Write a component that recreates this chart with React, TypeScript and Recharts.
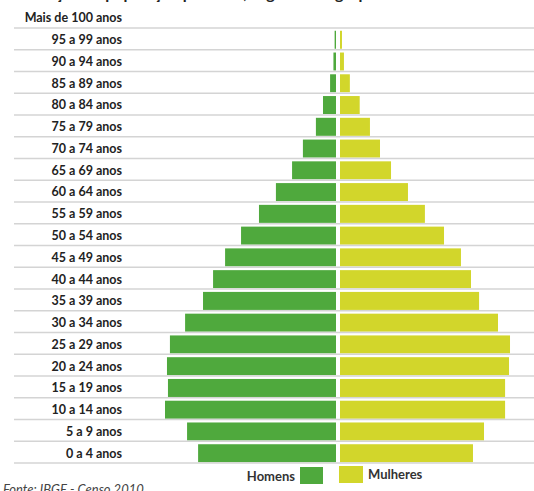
import React from "react";
import { BarChart, Bar, XAxis, YAxis } from "recharts";

// faixas etárias, de cima para baixo
const ageGroups = [
  "Mais de 100 anos",
  "95 a 99 anos",
  "90 a 94 anos",
  "85 a 89 anos",
  "80 a 84 anos",
  "75 a 79 anos",
  "70 a 74 anos",
  "65 a 69 anos",
  "60 a 64 anos",
  "55 a 59 anos",
  "50 a 54 anos",
  "45 a 49 anos",
  "40 a 44 anos",
  "35 a 39 anos",
  "30 a 34 anos",
  "25 a 29 anos",
  "20 a 24 anos",
  "15 a 19 anos",
  "10 a 14 anos",
  "5 a 9 anos",
  "0 a 4 anos",
];

// população em milhões
const men = [
  0.01, 0.07, 0.13, 0.3, 0.66, 1.02, 1.68, 2.23, 3.05, 3.91, 4.82,
  5.63, 6.24, 6.75, 7.66, 8.43, 8.58, 8.53, 8.68, 7.56, 7.0,
];
const women = [
  0.02, 0.1, 0.2, 0.5, 1.0, 1.52, 2.03, 2.59, 3.45, 4.31, 5.28,
  6.14, 6.65, 7.06, 8.02, 8.63, 8.58, 8.38, 8.38, 7.31, 6.75,
];

const xDomain = [-9, 9];

const GREEN = "#4fa93d";
const YELLOW = "#d2d62b";
const FONT = "Lato, 'Liberation Sans', sans-serif";

const chartData = ageGroups.map((age, i) => ({
  age,
  homens: -men[i],
  mulheres: women[i],
}));

// bar with a small offset away from the centre line
const makeShape = (shift: number) => (props: any) => {
  const { x, y, width, height, fill } = props;
  const w = Math.abs(width);
  if (!w || w < 0.5) return <g />;
  const left = Math.min(x, x + width) + shift;
  return <rect x={left} y={y} width={w} height={height} fill={fill} />;
};

const AgeTick = (props: any) => {
  const { y, payload } = props;
  return (
    <g>
      <text
        x={122}
        y={y}
        textAnchor="end"
        dominantBaseline="central"
        fontFamily={FONT}
        fontWeight={700}
        fontSize={12.5}
        fill="#222"
      >
        {payload.value}
      </text>
      <line x1={14} x2={534} y1={y + 10} y2={y + 10} stroke="#d4d4d4" strokeWidth={1.5} />
    </g>
  );
};

const LegendBox = () => (
  <svg
    width={534}
    height={27}
    style={{ position: "absolute", left: 0, top: 464, overflow: "visible", display: "block" }}
  >
    <text x={295} y={17} textAnchor="end" fontFamily={FONT} fontWeight={700} fontSize={13} fill="#333">
      Homens
    </text>
    <rect x={300} y={3} width={23} height={17} fill={GREEN} />
    <rect x={339} y={2} width={24} height={17} fill={YELLOW} />
    <text x={368} y={15} fontFamily={FONT} fontWeight={700} fontSize={13} fill="#333">
      Mulheres
    </text>
    <text x={3} y={30} fontFamily={FONT} fontStyle="italic" fontSize={13} fill="#444">
      Fonte: IBGE - Censo 2010
    </text>
  </svg>
);

export default function App() {
  return (
    <div style={{ position: "absolute", left: 0, top: 0, width: 534, height: 491, overflow: "hidden", background: "#fff" }}>
      <div
        style={{
          position: "absolute",
          top: -17,
          left: -6,
          whiteSpace: "nowrap",
          fontFamily: FONT,
          fontWeight: 700,
          fontSize: 16,
          color: "#222",
        }}
      >
        Distribuição da população por sexo, segundo os grupos de idade
      </div>
      <BarChart
        width={534}
        height={491}
        data={chartData}
        layout="vertical"
        stackOffset="sign"
        barSize={18}
        margin={{ top: 7, right: 18.7, left: 0, bottom: 27 }}
      >
        <XAxis type="number" domain={xDomain} hide allowDataOverflow />
        <YAxis
          type="category"
          dataKey="age"
          width={160.7}
          axisLine={false}
          tickLine={false}
          interval={0}
          tick={<AgeTick />}
        />
        <Bar dataKey="homens" stackId="p" fill={GREEN} isAnimationActive={false} shape={makeShape(-2)} />
        <Bar dataKey="mulheres" stackId="p" fill={YELLOW} isAnimationActive={false} shape={makeShape(2)} />
      </BarChart>
      <LegendBox />
    </div>
  );
}
